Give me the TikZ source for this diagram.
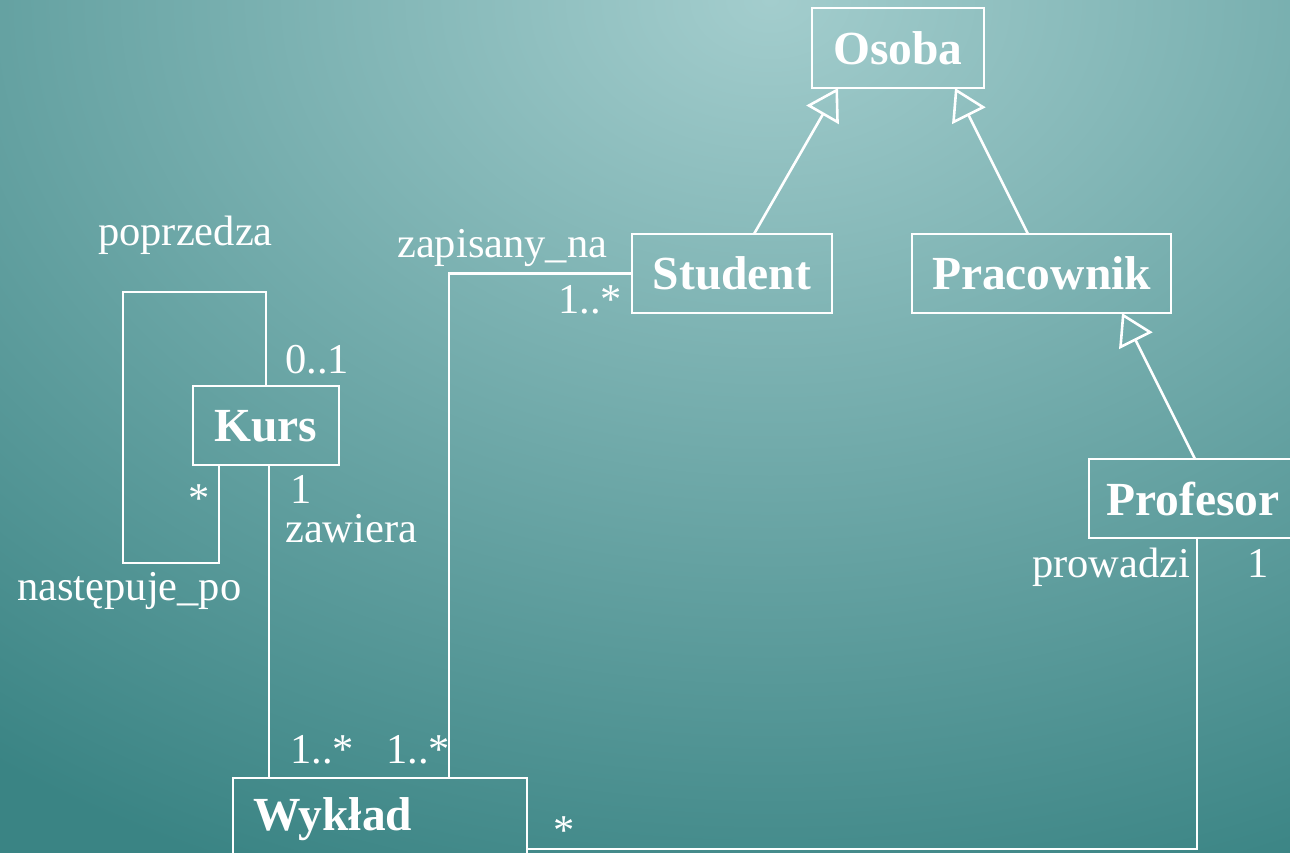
\documentclass[tikz,border=0pt]{standalone}
\usepackage{fontspec}
\setmainfont{Liberation Serif}
\usetikzlibrary{arrows.meta}
\definecolor{bgin}{RGB}{163,205,205}
\definecolor{bgout}{RGB}{58,132,132}
\pgfdeclareradialshading{bgshade}{\pgfpointorigin}{color(0bp)=(bgin); color(25bp)=(bgout); color(50bp)=(bgout)}
\begin{document}
\begin{tikzpicture}[x=1pt,y=-1pt,
  cls/.style={draw=white, line width=2.6pt, text=white, inner sep=0pt, outer sep=0pt, text depth=0pt,
    font=\bfseries\fontsize{47.5}{52}\selectfont},
  lbl/.style={text=white, inner sep=0pt, anchor=base west, font=\fontsize{42.5}{48}\selectfont},
  assoc/.style={draw=white, line width=2.6pt},
  gen/.style={draw=white, line width=2.6pt, -{Triangle[open, length=31pt, width=37pt]}}]
\useasboundingbox (0,0) rectangle (1290,853);
\fill[bgout] (0,0) rectangle (1290,853);
\begin{scope}
\clip (0,0) rectangle (1290,853);
\shade[shading=bgshade] (770,0) ellipse [x radius=1300pt, y radius=950pt];
\end{scope}

\node[cls, minimum width=172pt, minimum height=80pt] (osoba) at (898,48) {Osoba};
\node[cls, minimum width=200pt, minimum height=79pt] (student) at (732,273.5) {Student};
\node[cls, minimum width=259pt, minimum height=79pt] (pracownik) at (1041.5,273.5) {Pracownik};
\node[cls, minimum width=208pt, minimum height=79pt] (profesor) at (1193,498.5) {Profesor};
\node[cls, minimum width=146pt, minimum height=79pt] (kurs) at (266,425.5) {Kurs};
\node[cls, text width=254pt, align=left, inner xsep=20pt, minimum height=88pt, text depth=16pt] (wyklad) at (380,822) {Wykład};

\draw[gen] ([xshift=22pt]student.north) -- ([xshift=-60pt]osoba.south);
\draw[gen] ([xshift=-13.5pt]pracownik.north) -- ([xshift=57pt]osoba.south);
\draw[gen] ([xshift=2pt]profesor.north) -- ([xshift=80.5pt]pracownik.south);

\draw[assoc] (kurs.north) -- (266,292) -- (123,292) -- (123,563) -- (219,563) -- ([xshift=-47pt]kurs.south);
\draw[assoc] ([xshift=3pt]kurs.south) -- ([xshift=3pt]kurs.south |- wyklad.north);
\draw[assoc] ([xshift=216pt]wyklad.north west) |- (student.west);
\draw[assoc] ([xshift=4pt]profesor.south) |- ([yshift=17pt]wyklad.south east);

\node[lbl] (l1) at (98,245) {poprzedza};
\node[lbl] (l2) at (285,373) {0..1};
\node[lbl] (l3) at (188,512) {*};
\node[lbl] (l4) at (290,503) {1};
\node[lbl] (l5) at (285,542) {zawiera};
\node[lbl] (l6) at (17,600) {następuje\_po};
\node[lbl] (l7) at (397,258) {zapisany\_na};
\node[lbl] (l8) at (558,313) {1..*};
\node[lbl] (l9) at (290,763) {1..*};
\node[lbl] (l10) at (386,763) {1..*};
\node[lbl] (l11) at (553,844) {*};
\node[lbl] (l12) at (1032,577) {prowadzi};
\node[lbl] (l13) at (1247,577) {1};
\end{tikzpicture}
\end{document}
